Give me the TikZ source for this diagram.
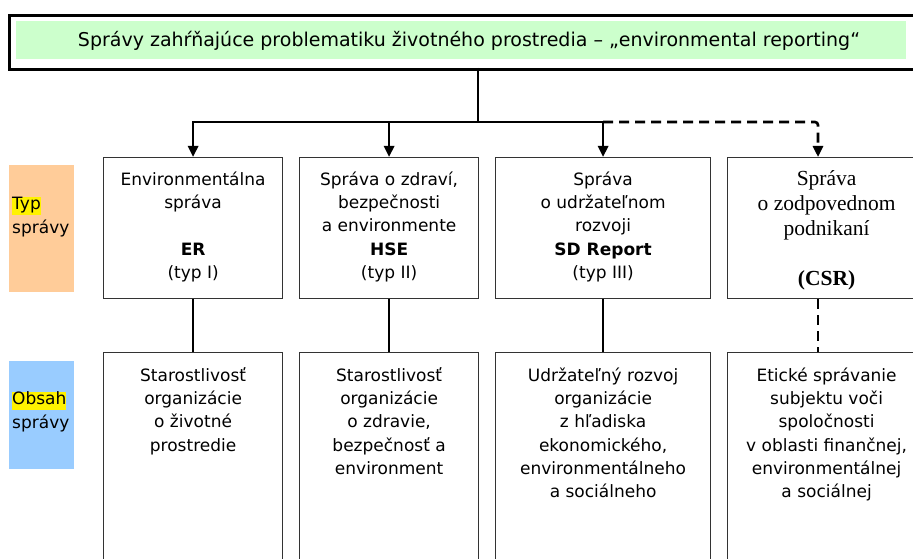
\documentclass[tikz,border=0pt]{standalone}
\usepackage{fontspec}
\setmainfont{DejaVu Sans}
\newfontfamily\csrfont{Liberation Serif}
\usepackage{tikz}
\usetikzlibrary{positioning,arrows.meta}

\definecolor{titlegreen}{HTML}{CCFFCC}
\definecolor{typorange}{HTML}{FFCC99}
\definecolor{obsahblue}{HTML}{99CCFF}
\definecolor{boxgray}{HTML}{333333}
\newcommand{\hlword}[1]{{\setlength{\fboxsep}{0pt}\colorbox{yellow}{\rule[-5pt]{0pt}{18pt}#1}}}
\newcommand{\firstline}{\rule{0pt}{18pt}}

\begin{document}
\begin{tikzpicture}[x=1pt,y=-1pt,
    repbox/.style={draw=boxgray,line width=1.2pt,minimum width=179pt,minimum height=141pt,inner sep=0pt,anchor=north west},
    boxtext/.style={anchor=north,align=center,inner sep=0pt,font=\fontsize{17}{23.3}\selectfont},
    sidebar/.style={minimum width=65pt,inner sep=0pt,anchor=north west},
    sidetext/.style={anchor=base west,align=left,inner sep=0pt,font=\fontsize{17}{23.2}\selectfont},
    conn/.style={line width=2.6pt},
    dconn/.style={line width=2.6pt,dash pattern=on 10pt off 6pt},
    tip/.style={-{Triangle[width=10pt,length=11pt]}}]
    \useasboundingbox (0,0) rectangle (913,559);
    	\node[draw=black,line width=3pt,minimum width=922pt,minimum height=54pt,inner sep=0pt,anchor=north west] (titlebox) at (8,14) {};
    	\node[fill=titlegreen,minimum width=890pt,minimum height=38pt,inner sep=0pt,anchor=north west] (titlefill) at (16,21) {};
    	\node[inner sep=0pt,font=\fontsize{19}{22}\selectfont] (title) at (469,41) {Správy zahŕňajúce problematiku životného prostredia – „environmental reporting“};
		\node[sidebar,fill=typorange,minimum height=127pt] (typbar) at (9,165) {};
		\node[sidebar,fill=obsahblue,minimum height=108pt] (obsahbar) at (9,361) {};
		\node[sidetext] (typtext) at (12,233) {\hlword{Typ}\\správy};
		\node[sidetext] (obsahtext) at (12,428) {\hlword{Obsah}\\správy};
		\node[repbox] (er) at (103,157) {};
		\node[repbox] (hse) at (299,157) {};
		\node[repbox,minimum width=215pt] (sd) at (495,157) {};
		\node[repbox,minimum width=198pt] (csr) at (727,157) {};
		\node[repbox,minimum height=220pt] (erobsah) at (103,352) {};
		\node[repbox,minimum height=220pt] (hseobsah) at (299,352) {};
		\node[repbox,minimum width=215pt,minimum height=220pt] (sdobsah) at (495,352) {};
		\node[repbox,minimum width=198pt,minimum height=220pt] (csrobsah) at (727,352) {};
		\coordinate (csrtop) at ([xshift=91pt]csr.north west);
		\coordinate (csrbot) at ([xshift=91pt]csr.south west);
		\coordinate (csrobsahtop) at ([xshift=91pt]csrobsah.north west);
		\node[boxtext] at ([yshift=-10pt]er.north) {\firstline Environmentálna\\správa\\[23.3pt]\textbf{ER}\\(typ I)};
		\node[boxtext] at ([yshift=-10pt]hse.north) {\firstline Správa o zdraví,\\bezpečnosti\\a environmente\\\textbf{HSE}\\(typ II)};
		\node[boxtext] at ([yshift=-10pt]sd.north) {\firstline Správa\\o udržateľnom\\rozvoji\\\textbf{SD Report}\\(typ III)};
		\node[boxtext,font=\csrfont\fontsize{21.5}{25}\selectfont] at ([yshift=-10pt]csr.north) {\firstline Správa\\o zodpovednom\\podnikaní\\[25pt]\textbf{(CSR)}};
		\node[boxtext] at ([yshift=-11pt]erobsah.north) {\firstline Starostlivosť\\organizácie\\o životné\\prostredie};
		\node[boxtext] at ([yshift=-11pt]hseobsah.north) {\firstline Starostlivosť\\organizácie\\o zdravie,\\bezpečnosť a\\environment};
		\node[boxtext] at ([yshift=-11pt]sdobsah.north) {\firstline Udržateľný rozvoj\\organizácie\\z hľadiska\\ekonomického,\\environmentálneho\\a sociálneho};
		\node[boxtext] at ([yshift=-11pt]csrobsah.north) {\firstline Etické správanie\\subjektu voči\\spoločnosti\\v oblasti finančnej,\\environmentálnej\\a sociálnej};
		\coordinate (trunk) at (478,68);
		\coordinate (fork) at (478,122);
		\draw [conn] (trunk)--(fork);
		\draw [conn,tip] (fork) -| (er.north);
		\draw [conn,tip] (fork) -| (hse.north);
		\draw [conn,tip] (fork) -| (sd.north);
		\draw [dconn,tip,rounded corners=3pt] (fork -| sd.north) -| (csrtop);
		\draw [conn] (er.south)--(erobsah.north);
		\draw [conn] (hse.south)--(hseobsah.north);
		\draw [conn] (sd.south)--(sdobsah.north);
		\draw [dconn] (csrbot)--(csrobsahtop);
    \end{tikzpicture}
\end{document}
